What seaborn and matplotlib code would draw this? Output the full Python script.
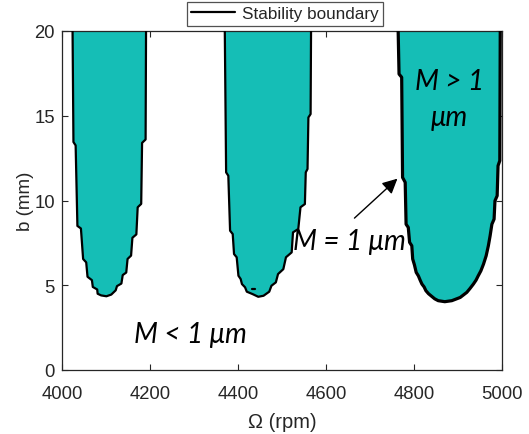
import numpy as np
import pandas as pd
import matplotlib
matplotlib.use("Agg")
import matplotlib.pyplot as plt
import seaborn as sns

# ---- data: stability lobe boundaries (rpm, b in mm), left side top->bottom then right side bottom->top
lobe1_rpm = [4024, 4026, 4031, 4035, 4043, 4048, 4055, 4058, 4068, 4070, 4080, 4081, 4089, 4101,
             4112, 4122, 4125, 4135, 4138, 4146, 4149, 4157, 4160, 4169, 4172, 4180, 4182, 4190, 4191]
lobe1_b = [20.0, 13.45, 13.25, 8.5, 8.35, 6.55, 6.35, 5.5, 5.3, 4.9, 4.75, 4.5, 4.4, 4.35,
           4.45, 4.7, 4.95, 5.1, 5.6, 5.75, 6.55, 6.75, 7.8, 8.0, 9.6, 9.8, 13.4, 13.6, 20.0]

lobe2_rpm = [4370, 4373, 4378, 4382, 4388, 4391, 4397, 4401, 4406, 4409, 4416, 4420, 4433, 4446,
             4458, 4471, 4476, 4486, 4491, 4503, 4509, 4522, 4525, 4537, 4542, 4552, 4554, 4558, 4560, 4565, 4566]
lobe2_b = [20.0, 11.66, 11.46, 8.22, 8.02, 6.84, 6.65, 5.56, 5.37, 5.07, 4.88, 4.62, 4.48, 4.32,
           4.38, 4.62, 4.97, 5.17, 5.66, 5.95, 6.65, 6.94, 8.12, 8.32, 9.6, 9.79, 11.66, 11.86, 14.9, 15.1, 20.0]

lobe3_rpm = [4764, 4766, 4772, 4774, 4780, 4782, 4787, 4790, 4795, 4797, 4801, 4805, 4810, 4814, 4818, 4823,
             4827, 4833, 4840, 4847, 4855, 4870,
             4886, 4895, 4905, 4912, 4920, 4927, 4935, 4941, 4946, 4952, 4958, 4964, 4969, 4973, 4977, 4982,
             4984, 4989, 4991, 4995, 4996]
lobe3_b = [20.0, 17.46, 17.27, 11.36, 11.07, 8.6, 8.41, 7.53, 7.33, 6.55, 6.2, 5.76, 5.55, 5.3, 5.07, 4.9,
           4.68, 4.5, 4.35, 4.2, 4.09, 4.03,
           4.09, 4.18, 4.28, 4.42, 4.58, 4.8, 5.07, 5.3, 5.56, 5.85, 6.25, 6.74, 7.33, 7.92, 8.6, 8.9,
           9.98, 10.28, 12.05, 12.35, 20.0]

x_ticks = [4000, 4200, 4400, 4600, 4800, 5000]
y_ticks = [0, 5, 10, 15, 20]

lobes = [(lobe1_rpm, lobe1_b), (lobe2_rpm, lobe2_b), (lobe3_rpm, lobe3_b)]
rows = []
for i, (xs, ys) in enumerate(lobes):
    for j, (x, y) in enumerate(zip(xs, ys)):
        rows.append({"lobe": i, "order": j, "rpm": x, "b": y})
df = pd.DataFrame(rows)

sns.set_style("ticks")
plt.rcParams['font.family'] = ['Liberation Sans', 'DejaVu Sans']

fig = plt.figure(figsize=(5.29, 4.35), dpi=100)
ax = fig.add_axes([62/529, 1-371/435, 440/529, 339/435])

fill_c = '#15BEB6'
for i, (xs, ys) in enumerate(lobes):
    ax.fill(xs, ys, color=fill_c, lw=0, zorder=1)

sns.lineplot(data=df[df.lobe < 2], x="rpm", y="b", units="lobe", estimator=None, sort=False,
             color='black', lw=1.6, ax=ax, zorder=3)
sns.lineplot(data=df[df.lobe == 2], x="rpm", y="b", estimator=None, sort=False,
             color='black', lw=2.3, ax=ax, zorder=3)
# small stray mark in lobe 2
ax.plot([4432, 4438], [4.8, 4.8], color='black', lw=1.6, zorder=3)

ax.set_xlim(4000, 5000)
ax.set_ylim(0, 20)
ax.set_xticks(x_ticks)
ax.set_yticks(y_ticks)
ax.tick_params(direction='in', length=4, width=0.8, top=True, right=True,
               labelsize=13.3, colors='#262626')
ax.tick_params(axis='x', pad=11)
ax.tick_params(axis='y', pad=5)
for s in ax.spines.values():
    s.set_visible(True)
    s.set_color('#262626')
    s.set_linewidth(0.9)
ax.set_xlabel('Ω (rpm)', fontsize=14.5, color='#262626', labelpad=7)
ax.set_ylabel('b (mm)', fontsize=13.5, color='#262626', labelpad=0)

tfont = dict(family=['Lato', 'DejaVu Sans'], style='italic', fontsize=20, color='black')
ax.text(4654, 7.6, 'M = 1 μm', ha='center', va='center', zorder=5, **tfont)
ax.text(4291, 2.1, 'M < 1 μm', ha='center', va='center', zorder=5, **tfont)
ax.text(4881, 17.05, 'M > 1', ha='center', va='center', zorder=5, **tfont)
ax.text(4881, 14.9, 'μm', ha='center', va='center', zorder=5, **tfont)

ax.annotate('', xy=(4767, 11.4), xytext=(4660, 8.85),
            arrowprops=dict(arrowstyle='-|>,head_length=0.9,head_width=0.45', color='black', lw=1.0),
            zorder=5)

handles = [plt.Line2D([], [], color='black', lw=1.6)]
leg = fig.legend(handles, ['Stability boundary'], loc='upper center',
                 bbox_to_anchor=(285/529, 1-3/435), frameon=True, fancybox=False,
                 fontsize=12.3, handlelength=2.6, handletextpad=0.4, borderpad=0.25,
                 borderaxespad=0)
leg.get_frame().set_edgecolor('#262626')
leg.get_frame().set_linewidth(0.9)
leg.set_zorder(10)

fig.savefig('out.png', dpi=100)
